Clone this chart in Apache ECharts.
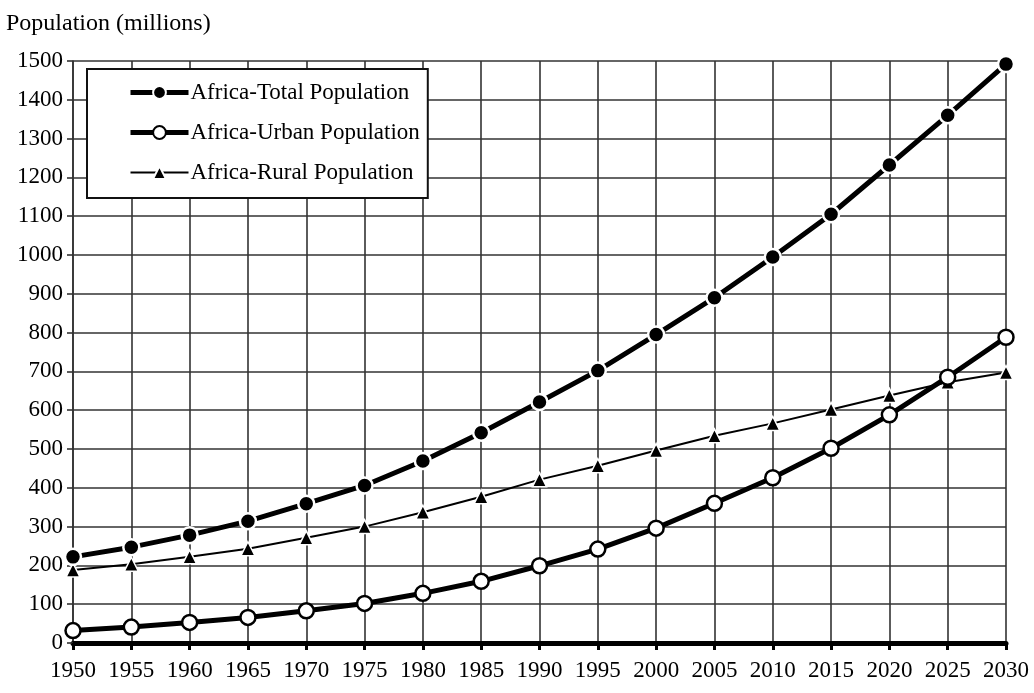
<!DOCTYPE html>
<html>
<head>
<meta charset="utf-8">
<script src="https://cdn.jsdelivr.net/npm/echarts@6/dist/echarts.min.js"></script>
<style>
  html, body { margin: 0; padding: 0; background: #fff; }
  #chart { width: 1034px; height: 693px; }
</style>
</head>
<body>
<div id="chart"></div>
<script>
// Africa population, millions
const years = ['1950','1955','1960','1965','1970','1975','1980','1985','1990','1995','2000','2005','2010','2015','2020','2025','2030'];
const totalPop = [222, 247, 278, 314, 359, 406, 469, 542, 621, 702, 795, 890, 995, 1105, 1232, 1360, 1492];
const urbanPop = [32, 41, 53, 66, 83, 102, 128, 159, 199, 242, 296, 360, 426, 502, 588, 685, 788];
const ruralPop = [188, 203, 222, 243, 271, 300, 337, 377, 421, 457, 496, 534, 566, 602, 638, 672, 697];
const seriesNames = ['Africa-Total Population', 'Africa-Urban Population', 'Africa-Rural Population'];

const FONT = '"Liberation Serif", "DejaVu Serif", serif';
const gridLine = { color: '#333', width: 1.6, type: 'solid' };

const chart = echarts.init(document.getElementById('chart'), null, { renderer: 'canvas' });
chart.setOption({
  animation: false,
  backgroundColor: '#fff',
  title: {
    text: 'Population (millions)',
    left: 1, top: 7,
    textStyle: { fontFamily: FONT, fontSize: 24, fontWeight: 'normal', color: '#000' }
  },
  grid: { left: 73, right: 28, top: 61, bottom: 50, containLabel: false },
  legend: {
    orient: 'vertical',
    left: 87, top: 69,
    padding: [11, 8, 13, 41],
    itemWidth: 58, itemHeight: 16, itemGap: 15,
    backgroundColor: '#fff',
    borderColor: '#111', borderWidth: 2,
    textStyle: { fontFamily: FONT, fontSize: 23, color: '#000', lineHeight: 25, padding: [0, 0, 0, -3] },
    data: [
      { name: seriesNames[0], lineStyle: { width: 5 } },
      { name: seriesNames[1], lineStyle: { width: 5 } },
      { name: seriesNames[2], lineStyle: { width: 2 } }
    ]
  },
  xAxis: {
    type: 'category',
    data: years,
    boundaryGap: false,
    axisLine: { show: true, lineStyle: { color: '#000', width: 5 } },
    axisTick: { show: true, interval: 0, alignWithLabel: true, length: 7, lineStyle: { color: '#000', width: 3 } },
    axisLabel: { interval: 0, fontFamily: FONT, fontSize: 23, color: '#000', margin: 16 },
    splitLine: { show: true, interval: 0, lineStyle: gridLine }
  },
  yAxis: {
    type: 'value',
    min: 0, max: 1500, interval: 100,
    axisLine: { show: true, lineStyle: gridLine },
    axisTick: { show: true, length: 6, lineStyle: gridLine },
    axisLabel: { fontFamily: FONT, fontSize: 23, color: '#000', margin: 10, formatter: v => String(v) },
    splitLine: { show: true, lineStyle: gridLine }
  },
  series: [
    {
      name: seriesNames[0], type: 'line', data: totalPop,
      symbol: 'circle', symbolSize: 16, z: 4,
      lineStyle: { color: '#000', width: 5 },
      itemStyle: { color: '#000', borderColor: '#fff', borderWidth: 2.5 }
    },
    {
      name: seriesNames[1], type: 'line', data: urbanPop,
      symbol: 'circle', symbolSize: 15, z: 3,
      lineStyle: { color: '#000', width: 5 },
      itemStyle: { color: '#fff', borderColor: '#000', borderWidth: 2.5 }
    },
    {
      name: seriesNames[2], type: 'line', data: ruralPop,
      symbol: 'triangle', symbolSize: 14, z: 2,
      lineStyle: { color: '#000', width: 2 },
      itemStyle: { color: '#000', borderColor: '#fff', borderWidth: 1.5 }
    }
  ]
});
</script>
</body>
</html>
